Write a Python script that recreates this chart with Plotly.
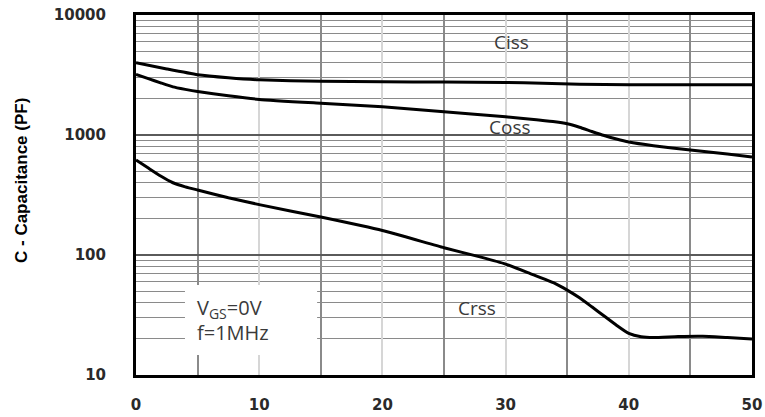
import plotly.graph_objects as go

# Drain-source voltage (V) and capacitances (pF)
ciss_x = [0, 2.5, 5, 7.5, 10, 15, 20, 25, 30, 33, 36, 40, 45, 50]
ciss_y = [4000, 3550, 3180, 3000, 2880, 2800, 2780, 2760, 2740, 2700, 2650, 2620, 2620, 2620]

coss_x = [0, 1, 2, 3, 4, 5, 7.5, 10, 15, 20, 25, 30, 32.5, 34, 35, 36, 37, 38, 39, 40, 42, 45, 48, 50]
coss_y = [3200, 2950, 2720, 2520, 2400, 2300, 2120, 1980, 1840, 1720, 1565, 1420, 1340, 1290, 1240,
          1160, 1070, 990, 925, 875, 815, 750, 695, 657]

crss_x = [0, 1, 2, 3, 4, 5, 7.5, 10, 15, 20, 25, 28, 30, 32, 34, 35, 36, 37, 38, 39, 40, 41,
          42, 44, 46, 48, 50]
crss_y = [620, 530, 455, 400, 370, 348, 300, 263, 207, 160, 115, 96, 84, 70, 58, 51, 44, 37,
          31, 26, 22.2, 20.8, 20.5, 20.9, 21, 20.5, 20]

x_ticks = [0, 10, 20, 30, 40, 50]
x_minor = [5, 15, 25, 35, 45]
y_ticks = [10, 100, 1000, 10000]
y_minor = [m * d for d in (10, 100, 1000) for m in range(2, 10)]

labels = ["Ciss", "Coss", "Crss"]

fig = go.Figure()
for xs, ys, name in [(ciss_x, ciss_y, labels[0]), (coss_x, coss_y, labels[1]), (crss_x, crss_y, labels[2])]:
    fig.add_trace(go.Scatter(x=xs, y=ys, mode="lines", name=name,
                             line=dict(color="black", width=3, shape="spline", smoothing=0.5),
                             showlegend=False, hoverinfo="skip"))

tick_font = dict(family="DejaVu Sans", size=15, color="#2a2a2a", weight="bold")

fig.update_xaxes(range=[0, 50], tickvals=x_ticks, ticktext=[str(v) for v in x_ticks],
                 showgrid=True, gridcolor="#d6d6d6", gridwidth=1.5,
                 minor=dict(tickvals=x_minor, showgrid=True, gridcolor="#8a8a8a", gridwidth=1.5, ticks=""),
                 ticks="", showline=True, linecolor="black", linewidth=3, mirror=True,
                 tickfont=tick_font, ticklabelstandoff=14, zeroline=False, automargin=False)
fig.update_yaxes(type="log", range=[1, 4], tickvals=y_ticks, ticktext=[str(v) for v in y_ticks],
                 showgrid=True, gridcolor="#5a5a5a", gridwidth=1.5,
                 minor=dict(tickvals=y_minor, showgrid=True, gridcolor="#8a8a8a", gridwidth=1.3, ticks=""),
                 ticks="", showline=True, linecolor="black", linewidth=3, mirror=True,
                 tickfont=tick_font, ticklabelstandoff=24, zeroline=False, automargin=False)

# White box behind the test-condition text
fig.add_shape(type="rect", xref="paper", yref="paper", x0=0.0795, x1=0.294, y0=0.0556, y1=0.25,
              fillcolor="white", line=dict(width=0), layer="above")

lab_font = dict(family="Open Sans", size=19, color="#3a3a3a")
for txt, px, py in [(labels[0], 0.610, 0.925), (labels[1], 0.607, 0.689), (labels[2], 0.554, 0.186)]:
    fig.add_annotation(text=txt, xref="paper", yref="paper", x=px, y=py, xanchor="center",
                       yanchor="middle", showarrow=False, font=lab_font)

cond_font = dict(family="Open Sans", size=20, color="#3a3a3a")
fig.add_annotation(text="V<sub>GS</sub>=0V", xref="paper", yref="paper", x=0.0958, y=0.186,
                   xanchor="left", yanchor="middle", showarrow=False, font=cond_font)
fig.add_annotation(text="f=1MHz", xref="paper", yref="paper", x=0.0958, y=0.117,
                   xanchor="left", yanchor="middle", showarrow=False, font=cond_font)

fig.add_annotation(text="C - Capacitance (PF)", xref="paper", yref="paper", x=-0.185, y=0.539,
                   xanchor="center", yanchor="middle", textangle=-90, showarrow=False,
                   font=dict(family="Liberation Sans", size=17, color="black", weight="bold"))

fig.update_layout(width=765, height=417, margin=dict(l=136, r=13, t=15, b=42, autoexpand=False),
                  paper_bgcolor="white", plot_bgcolor="white")

fig.write_html("out.html", config={"displayModeBar": False},
               post_script="document.body.style.margin='0';document.body.style.overflow='hidden';")
